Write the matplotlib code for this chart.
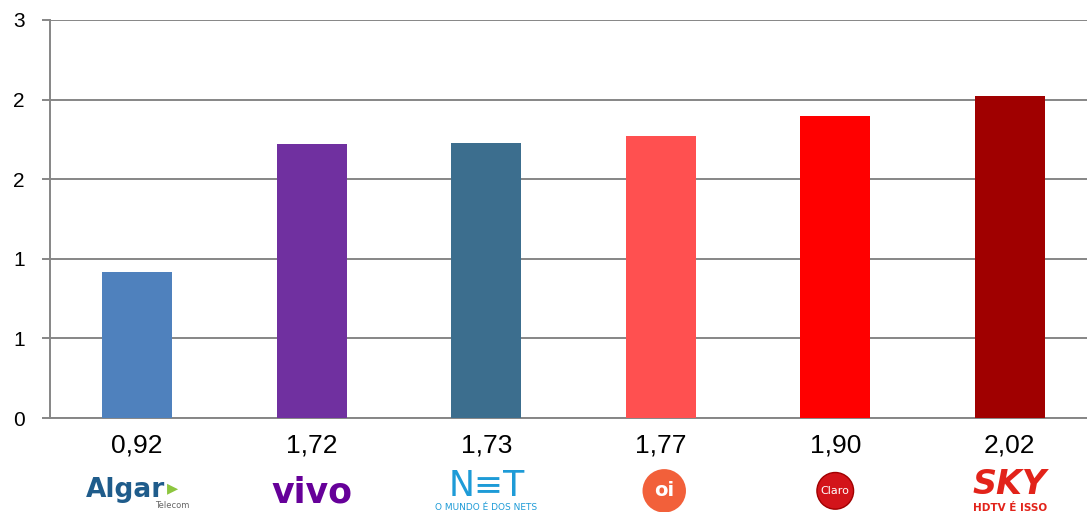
import matplotlib
matplotlib.use("Agg")
import matplotlib.pyplot as plt
from matplotlib.transforms import blended_transform_factory

brands = ["Algar", "vivo", "NET", "oi", "Claro", "SKY"]
values = [0.92, 1.72, 1.73, 1.77, 1.90, 2.02]
value_labels = ["0,92", "1,72", "1,73", "1,77", "1,90", "2,02"]
colors = ["#4F81BD", "#7030A0", "#3C6E8E", "#FF5050", "#FF0000", "#A00000"]
yticks = [0, 0.5, 1.0, 1.5, 2.0, 2.5]
ytick_labels = ["0", "1", "1", "2", "2", "3"]

W, H = 1087, 512
fig = plt.figure(figsize=(W / 100, H / 100), dpi=100)
ax = fig.add_axes([50 / W, (H - 418) / H, 1047 / W, 398 / H])

x = list(range(len(brands)))
ax.bar(x, values, width=0.4, color=colors, zorder=3)
ax.set_xlim(-0.5, len(brands) - 0.5)
ax.set_ylim(0, 2.5)

fam = ["Liberation Sans Narrow", "Liberation Sans", "DejaVu Sans"]
grid_c = "#868686"
ax.set_yticks(yticks)
ax.set_yticklabels(ytick_labels, fontsize=15, family=fam)
ax.yaxis.grid(True, color=grid_c, linewidth=1.4, zorder=0)
ax.tick_params(axis="y", length=6, width=1.4, color=grid_c, pad=12)
ax.set_xticks([])
for s in ["top", "right"]:
    ax.spines[s].set_visible(False)
ax.spines["left"].set_color(grid_c)
ax.spines["left"].set_linewidth(1.4)
ax.spines["bottom"].set_color(grid_c)
ax.spines["bottom"].set_linewidth(1.4)

tr = blended_transform_factory(ax.transData, ax.transAxes)
for xi, lab in zip(x, value_labels):
    ax.text(xi, -0.068, lab, transform=tr, ha="center", va="center",
            fontsize=19, family=fam, color="black", clip_on=False)

logo_y = -0.180
# Algar
ax.text(x[0] - 0.07, logo_y, "Algar", transform=tr, ha="center", va="center",
        fontsize=19, fontweight="bold", color="#1F5C8B", clip_on=False)
ax.text(x[0] + 0.2, logo_y + 0.003, "▸", transform=tr, ha="center", va="center",
        fontsize=16, color="#8DC63F", clip_on=False)
ax.text(x[0] + 0.2, -0.221, "Telecom", transform=tr, ha="center", va="center",
        fontsize=6, color="#666666", clip_on=False)
# vivo
ax.text(x[1], logo_y - 0.008, "vivo", transform=tr, ha="center", va="center",
        fontsize=25, fontweight="bold", color="#660099", clip_on=False)
# NET
ax.text(x[2], logo_y + 0.008, "N\u2261T", transform=tr, ha="center", va="center",
        fontsize=25, color="#1E9BD7", clip_on=False)
ax.text(x[2], -0.226, "O MUNDO É DOS NETS", transform=tr, ha="center", va="center",
        fontsize=6.5, color="#1E9BD7", clip_on=False)
# oi
ax.text(x[3] + 0.02, logo_y - 0.003, "oi", transform=tr, ha="center", va="center",
        fontsize=14, fontweight="bold", color="white", clip_on=False,
        bbox=dict(boxstyle="circle,pad=0.6", fc="#F2603A", ec="none"))
# Claro
ax.text(x[4], logo_y - 0.003, "Claro", transform=tr, ha="center", va="center",
        fontsize=8, color="white", clip_on=False,
        bbox=dict(boxstyle="circle,pad=0.35", fc="#D3141A", ec="#A00000"))
# SKY
ax.text(x[5], -0.168, "SKY", transform=tr, ha="center", va="center",
        fontsize=24, fontweight="bold", fontstyle="italic", color="#E2231A", clip_on=False)
ax.text(x[5], -0.226, "HDTV É ISSO", transform=tr, ha="center", va="center",
        fontsize=7.5, fontweight="bold", color="#E2231A", clip_on=False)

fig.savefig("out.png", dpi=100)
